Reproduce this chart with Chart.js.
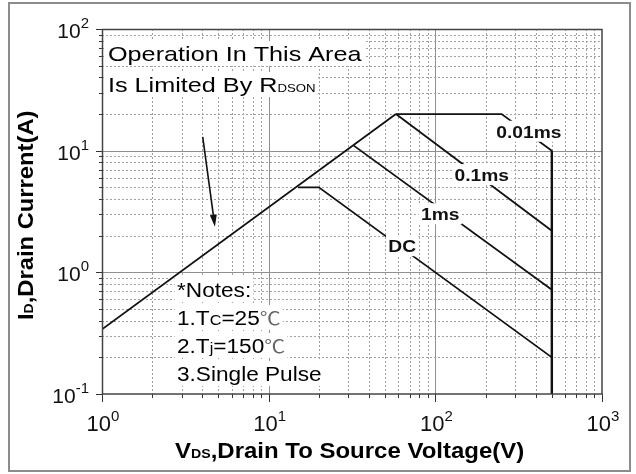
<!DOCTYPE html>
<html>
<head>
<meta charset="utf-8">
<script src="https://cdn.jsdelivr.net/npm/chart.js@4.4.1/dist/chart.umd.min.js"></script>
<style>
  html, body { margin: 0; padding: 0; background: #fff; }
  canvas { display: block; }
</style>
</head>
<body>
<canvas id="soaChart" width="636" height="474"></canvas>
<script>
// axis ranges and decade ticks
var xDecades = [1, 10, 100, 1000];
var yDecades = [0.1, 1, 10, 100];
var xTickExp = ["0", "1", "2", "3"];
var yTickExp = ["-1", "0", "1", "2"];
var minorSteps = [2, 3, 4, 5, 6, 7, 8, 9];

// SOA boundaries: V (volts) / I (amps)
var rdsonV = [1, 58];
var rdsonI = [0.34, 20];
var us10V = [58, 250, 500, 500];
var us10I = [20, 20, 10, 0.1];
var us100V = [58, 500];
var us100I = [20, 2.2];
var ms1V = [32.4, 500];
var ms1I = [11, 0.72];
var dcV = [15, 20, 500];
var dcI = [5, 5, 0.2];

var curveNames = ["0.01ms", "0.1ms", "1ms", "DC"];

function pts(xs, ys) {
  return xs.map(function (v, i) {
    return { x: v, y: ys[i] };
  });
}

var FONT = '"Liberation Sans", Arial, sans-serif';

// draws a run of text pieces side by side, stretched horizontally by sx
function drawRun(ctx, x, y, parts, opts) {
  opts = opts || {};
  var sx = opts.sx || 1;
  ctx.save();
  ctx.translate(x, y);
  if (opts.rotate) ctx.rotate(opts.rotate);
  ctx.scale(sx, 1);
  ctx.textBaseline = "alphabetic";
  ctx.textAlign = "left";
  var widths = parts.map(function (p) {
    ctx.font = p[1];
    return ctx.measureText(p[0]).width;
  });
  var total = widths.reduce(function (a, b) { return a + b; }, 0);
  var cx = 0;
  if (opts.align === "center") cx = -total / 2;
  if (opts.align === "right") cx = -total;
  if (opts.bg) {
    ctx.fillStyle = "#fff";
    ctx.fillRect(cx - 2, opts.bg[0], total + 4, opts.bg[1]);
  }
  parts.forEach(function (p, i) {
    ctx.font = p[1];
    ctx.fillStyle = p[2] || "#000";
    ctx.fillText(p[0], cx, p[3] || 0);
    cx += widths[i];
  });
  ctx.restore();
}

function line(ctx, x1, y1, x2, y2) {
  ctx.beginPath();
  ctx.moveTo(x1, y1);
  ctx.lineTo(x2, y2);
  ctx.stroke();
}

var decor = {
  id: "decor",
  beforeDraw: function (chart) {
    var ctx = chart.ctx;
    ctx.save();
    ctx.fillStyle = "#fff";
    ctx.fillRect(0, 0, chart.width, chart.height);
    ctx.strokeStyle = "#8c8c8c";
    ctx.lineWidth = 2;
    ctx.strokeRect(9, 3, 621, 468);
    ctx.restore();
  },
  beforeDatasetsDraw: function (chart) {
    var ctx = chart.ctx;
    var a = chart.chartArea;
    var xs = chart.scales.x, ys = chart.scales.y;
    ctx.save();
    // minor grid (dotted)
    ctx.strokeStyle = "#a0a0a0";
    ctx.lineWidth = 1;
    ctx.setLineDash([2, 2]);
    xDecades.slice(0, -1).forEach(function (d) {
      minorSteps.forEach(function (m) {
        var px = Math.round(xs.getPixelForValue(d * m)) + 0.5;
        line(ctx, px, a.top, px, a.bottom);
      });
    });
    yDecades.slice(0, -1).forEach(function (d) {
      minorSteps.forEach(function (m) {
        var py = Math.round(ys.getPixelForValue(d * m)) + 0.5;
        line(ctx, a.left, py, a.right, py);
      });
    });
    // major grid (solid)
    ctx.setLineDash([]);
    ctx.strokeStyle = "#909090";
    xDecades.slice(1, -1).forEach(function (d) {
      var px = Math.round(xs.getPixelForValue(d)) + 0.5;
      line(ctx, px, a.top, px, a.bottom);
    });
    yDecades.slice(1, -1).forEach(function (d) {
      var py = Math.round(ys.getPixelForValue(d)) + 0.5;
      line(ctx, a.left, py, a.right, py);
    });

    // tick marks outside the frame
    ctx.strokeStyle = "#333";
    xDecades.forEach(function (d, i) {
      var px = Math.round(xs.getPixelForValue(d)) + 0.5;
      line(ctx, px, a.bottom, px, a.bottom + 8);
      if (i < xDecades.length - 1) {
        minorSteps.forEach(function (m) {
          var p = Math.round(xs.getPixelForValue(d * m)) + 0.5;
          line(ctx, p, a.bottom, p, a.bottom + 4);
        });
      }
    });
    yDecades.forEach(function (d, i) {
      var py = Math.round(ys.getPixelForValue(d)) + 0.5;
      line(ctx, a.left - 6, py, a.left, py);
      if (i < yDecades.length - 1) {
        minorSteps.forEach(function (m) {
          var p = Math.round(ys.getPixelForValue(d * m)) + 0.5;
          line(ctx, a.left - 3, p, a.left, p);
        });
      }
    });

    // tick labels 10^n
    xDecades.forEach(function (d, i) {
      var px = xs.getPixelForValue(d);
      drawRun(ctx, px + 1, a.bottom + 37, [
        ["10", "22px " + FONT, "#111", 0],
        [xTickExp[i], "15px " + FONT, "#111", -10]
      ], { align: "center" });
    });
    yDecades.forEach(function (d, i) {
      var py = ys.getPixelForValue(d);
      drawRun(ctx, 89, py + 9, [
        ["10", "21px " + FONT, "#111", 0],
        [yTickExp[i], "15px " + FONT, "#111", -10]
      ], { align: "right" });
    });

    // axis titles
    drawRun(ctx, 175, 458, [
      ["V", "bold 22px " + FONT],
      ["DS", "bold 13px " + FONT],
      [",Drain To Source Voltage(V)", "bold 22px " + FONT]
    ], { sx: 1.09 });
    drawRun(ctx, 33, 320, [
      ["I", "bold 22px " + FONT],
      ["D", "bold 13px " + FONT],
      [",Drain Current(A)", "bold 22px " + FONT]
    ], { sx: 1.08, rotate: -Math.PI / 2 });

    // annotation blocks with white backing
    var f21 = "21px " + FONT;
    drawRun(ctx, 108, 61, [["Operation In This Area", f21]], { sx: 1.2, bg: [-20, 25] });
    drawRun(ctx, 108, 92, [
      ["Is Limited By R", f21],
      ["DSON", "11px " + FONT]
    ], { sx: 1.2, bg: [-20, 25] });

    var f19 = "19.5px " + FONT;
    var fs = "14px " + FONT;
    var fc = "18px \"Noto Sans CJK SC\", sans-serif";
    var nopt = { sx: 1.16, bg: [-20, 25] };
    drawRun(ctx, 177, 297, [["*Notes:", f19]], nopt);
    drawRun(ctx, 177, 325, [
      ["1.T", f19], ["C", fs], ["=25", f19], ["\u2103", fc, "#666"]
    ], nopt);
    drawRun(ctx, 177, 353, [
      ["2.T", f19], ["j", fs], ["=150", f19], ["\u2103", fc, "#666"]
    ], nopt);
    drawRun(ctx, 177, 381, [["3.Single Pulse", f19]], nopt);
    ctx.restore();
  },
  afterDatasetsDraw: function (chart) {
    var ctx = chart.ctx;
    var a = chart.chartArea;
    var xs = chart.scales.x, ys = chart.scales.y;
    ctx.save();
    // frame
    ctx.strokeStyle = "#444";
    ctx.lineWidth = 1.5;
    ctx.strokeRect(a.left + 0.5, a.top + 0.5, a.right - a.left - 0.5, a.bottom - a.top - 0.5);

    // curve labels, placed in data space
    var spots = [[364, 14.3], [190, 6.3], [107, 3.0], [63.3, 1.64]];
    curveNames.forEach(function (name, i) {
      var px = xs.getPixelForValue(spots[i][0]);
      var py = ys.getPixelForValue(spots[i][1]);
      drawRun(ctx, px, py + 6, [[name, "bold 16px " + FONT, "#111"]],
        { sx: 1.2, align: "center", bg: [-17, 21] });
    });

    // arrow pointing at the RDS(on) line
    var x1 = xs.getPixelForValue(4.02), y1 = ys.getPixelForValue(13);
    var x2 = xs.getPixelForValue(4.76), y2 = ys.getPixelForValue(2.37);
    var ang = Math.atan2(y2 - y1, x2 - x1);
    ctx.strokeStyle = "#111";
    ctx.fillStyle = "#111";
    ctx.lineWidth = 1.6;
    line(ctx, x1, y1, x2 - 9 * Math.cos(ang), y2 - 9 * Math.sin(ang));
    ctx.beginPath();
    ctx.moveTo(x2, y2);
    ctx.lineTo(x2 - 12 * Math.cos(ang) + 3.5 * Math.sin(ang), y2 - 12 * Math.sin(ang) - 3.5 * Math.cos(ang));
    ctx.lineTo(x2 - 12 * Math.cos(ang) - 3.5 * Math.sin(ang), y2 - 12 * Math.sin(ang) + 3.5 * Math.cos(ang));
    ctx.closePath();
    ctx.fill();
    ctx.restore();
  }
};

var common = {
  showLine: true,
  pointRadius: 0,
  borderColor: "#111",
  borderWidth: 1.8,
  fill: false,
  tension: 0
};

var ctx = document.getElementById("soaChart").getContext("2d");
var soaChart = new Chart(ctx, {
  type: "scatter",
  data: {
    datasets: [
      Object.assign({ label: "RDS(on) limit", data: pts(rdsonV, rdsonI) }, common),
      Object.assign({
        label: curveNames[0],
        data: pts(us10V, us10I),
        segment: {
          borderWidth: function (c) { return c.p0DataIndex === 2 ? 2.4 : 1.8; }
        }
      }, common),
      Object.assign({ label: curveNames[1], data: pts(us100V, us100I) }, common),
      Object.assign({ label: curveNames[2], data: pts(ms1V, ms1I) }, common),
      Object.assign({ label: curveNames[3], data: pts(dcV, dcI) }, common)
    ]
  },
  options: {
    responsive: false,
    animation: false,
    devicePixelRatio: 1,
    layout: { padding: { top: 29, right: 34, left: 0, bottom: 0 } },
    plugins: {
      legend: { display: false },
      tooltip: { enabled: false }
    },
    scales: {
      x: {
        type: "logarithmic",
        min: 1,
        max: 1000,
        ticks: { display: false },
        grid: { display: false },
        border: { display: false },
        afterFit: function (s) { s.height = 80; }
      },
      y: {
        type: "logarithmic",
        min: 0.1,
        max: 100,
        ticks: { display: false },
        grid: { display: false },
        border: { display: false },
        afterFit: function (s) { s.width = 102; }
      }
    }
  },
  plugins: [decor]
});
</script>
</body>
</html>
